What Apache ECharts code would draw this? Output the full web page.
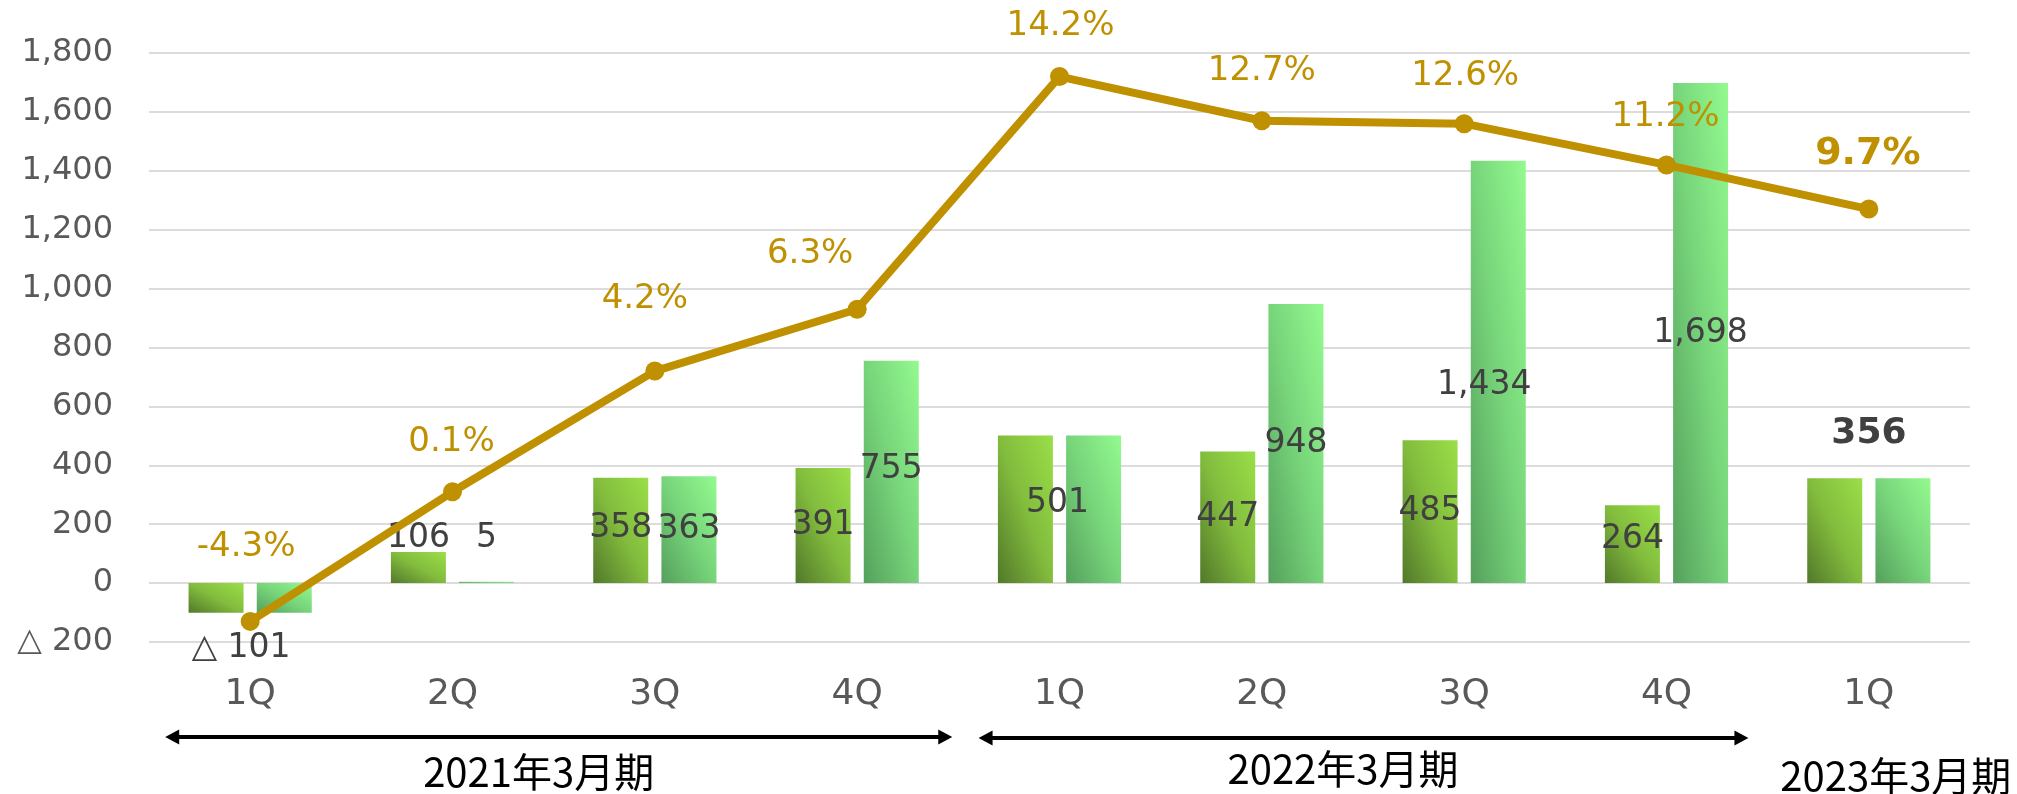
<!DOCTYPE html>
<html><head><meta charset="utf-8">
<script src="https://cdn.jsdelivr.net/npm/echarts@6/dist/echarts.min.js"></script>
<style>html,body{margin:0;padding:0;background:#fff}#c{width:2017px;height:794px}</style>
</head><body><div id="c"></div>
<script>
// ---- data ----
const categories = ['1Q','2Q','3Q','4Q','1Q','2Q','3Q','4Q','1Q'];
const quarterlyProfit = [-101,106,358,391,501,447,485,264,356];
const cumulativeProfit = [-101,5,363,755,501,948,1434,1698,356];
const marginPct = [-4.3,0.1,4.2,6.3,14.2,12.7,12.6,11.2,9.7];
const yMin = -200, yMax = 1800, yStep = 200;
const y2Min = -5, y2Max = 15;
const periods = ['2021年3月期','2022年3月期','2023年3月期'];

// ---- label placement (style only) ----
const qLabelOffset = [[25,50],[0,-29],[0,-2],[0,0],null,[0,0],[0,0],[0,-5],null];
const cLabelOffset = [null,[0,-44],[0,0],[0,-3],[-36,-6],[0,0],[-14,13],[0,0],[-34,-97]];
const mLabelOffset = [[-4,-74],[-1,-50],[-10,-72],[-47,-55],[1,-50],[0,-50],[1,-48],[-1,-48],[-1,-55]];
const emphasisIdx = 8;

const qStops = [{offset:0,color:'#52782A'},{offset:0.5,color:'#82BC3D'},{offset:1,color:'#9ADF48'}];
const cStops = [{offset:0,color:'#55A05C'},{offset:0.5,color:'#77D47A'},{offset:1,color:'#93FA8F'}];
const BAR_W = 55;

const fmt = v => (v < 0 ? '△ ' : '') + Math.abs(v).toLocaleString('en-US');
const numFont = 'DejaVu Sans';

function barData(values, offsets, colorFn) {
  return values.map((v, i) => {
    const o = offsets[i];
    const item = { value: v, label: o ? { show: true, offset: o } : { show: false } };
    if (i === emphasisIdx && o) { item.label.fontWeight = 'bold'; item.label.fontSize = 36; }
    if (colorFn) item.itemStyle = { color: colorFn(i, v) };
    return item;
  });
}

const chart = echarts.init(document.getElementById('c'), null, {renderer: 'canvas'});
const option = {
  animation: false,
  backgroundColor: '#ffffff',
  grid: { left: 149, right: 47, top: 53, bottom: 152 },
  xAxis: {
    type: 'category', data: categories,
    axisLine: { show: false, onZero: false }, axisTick: { show: false },
    axisLabel: { fontSize: 36, color: '#595959', fontFamily: numFont, margin: 35 }
  },
  yAxis: [{
    type: 'value', min: yMin, max: yMax, interval: yStep,
    axisLine: { show: false }, axisTick: { show: false },
    axisLabel: { fontSize: 32, color: '#595959', fontFamily: numFont, margin: 36, formatter: fmt },
    splitLine: { lineStyle: { color: '#DCDCDC', width: 2 } }
  }, {
    type: 'value', min: y2Min, max: y2Max, show: false, splitLine: { show: false }
  }],
  series: [{
    type: 'bar', name: '四半期', barWidth: BAR_W, barGap: '24%',
    data: barData(quarterlyProfit, qLabelOffset),
    label: { show: true, position: 'inside', formatter: p => fmt(p.value), fontSize: 33, color: '#404040', fontFamily: numFont },
    itemStyle: { color: '#82BC3D' }, z: 2
  }, {
    type: 'bar', name: '累計', barWidth: BAR_W, barGap: '24%',
    data: barData(cumulativeProfit, cLabelOffset),
    label: { show: true, position: 'inside', formatter: p => fmt(p.value), fontSize: 33, color: '#404040', fontFamily: numFont },
    itemStyle: { color: '#77D47A' }, z: 2
  }, {
    type: 'line', name: '利益率', yAxisIndex: 1,
    data: marginPct.map((v, i) => ({
      value: v,
      label: i === emphasisIdx ? { offset: mLabelOffset[i], fontWeight: 'bold', fontSize: 38 } : { offset: mLabelOffset[i] }
    })),
    symbol: 'circle', symbolSize: 19,
    lineStyle: { color: '#BF9000', width: 8 },
    itemStyle: { color: '#BF9000' },
    label: { show: true, position: 'inside', formatter: p => p.value.toFixed(1) + '%', fontSize: 34, color: '#BF9000', fontFamily: numFont },
    z: 5
  }]
};
chart.setOption(option);

// ---- second pass: gradients scaled per bar, and period arrows ----
const py = v => chart.convertToPixel({yAxisIndex: 0}, v);
const px = i => chart.convertToPixel({xAxisIndex: 0}, i);
function grad(stops, v) {
  const w = BAR_W, h = Math.max(1, Math.abs(py(v) - py(0)));
  const s = w * w + h * h;
  return new echarts.graphic.LinearGradient(0, 1, 2 * h * h / s, 1 - 2 * w * w / s, stops);
}
const cw = px(1) - px(0);
const arrowY = py(yMin) + 95;
function arrow(x0, x1, y) {
  const head = 14, hh = 7.5;
  return [
    { type: 'line', shape: { x1: x0 + head - 2, y1: y, x2: x1 - head + 2, y2: y }, style: { stroke: '#000', lineWidth: 4 } },
    { type: 'polygon', shape: { points: [[x0, y], [x0 + head, y - hh], [x0 + head, y + hh]] }, style: { fill: '#000' } },
    { type: 'polygon', shape: { points: [[x1, y], [x1 - head, y - hh], [x1 - head, y + hh]] }, style: { fill: '#000' } }
  ];
}
function periodText(str, x, y) {
  return { type: 'text', x: x, y: y, style: { text: str, fontSize: 40, fontFamily: 'Noto Sans CJK JP', fill: '#000', textAlign: 'center', textVerticalAlign: 'middle' } };
}
const graphics = [].concat(
  arrow(px(0) - 0.42 * cw, px(3) + 0.47 * cw, arrowY),
  arrow(px(4) - 0.40 * cw, px(7) + 0.405 * cw, arrowY + 1),
  [
    periodText(periods[0], (px(0) + px(3)) / 2 - 15, arrowY + 35),
    periodText(periods[1], (px(4) + px(7)) / 2 - 20, arrowY + 32),
    periodText(periods[2], px(8) + 27, arrowY + 39)
  ]
);
chart.setOption({
  graphic: graphics,
  series: [
    { data: barData(quarterlyProfit, qLabelOffset, (i, v) => grad(qStops, v)) },
    { data: barData(cumulativeProfit, cLabelOffset, (i, v) => grad(cStops, v)) },
    {}
  ]
});
</script></body></html>
